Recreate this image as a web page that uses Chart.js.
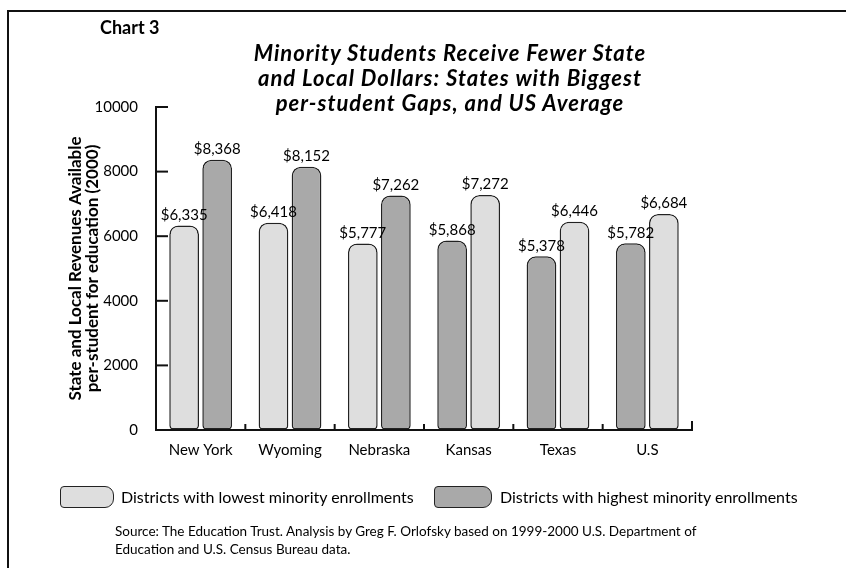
<!DOCTYPE html>
<html>
<head>
<meta charset="utf-8">
<script src="https://cdn.jsdelivr.net/npm/chart.js@4.4.1/dist/chart.umd.min.js"></script>
<style>
  html, body { margin: 0; padding: 0; background: #fff; }
  #wrap { position: relative; width: 846px; height: 568px; overflow: hidden; font-family: Lato, "Open Sans", sans-serif; color: #000; }
  #frame { position: absolute; left: 7px; top: 10px; width: 850px; height: 570px; border-left: 2px solid #111; border-top: 2px solid #111; }
  #cv { position: absolute; left: 0; top: 0; }
  .txt { position: absolute; white-space: nowrap; }
  #lbl { left: 100px; top: 16px; font-weight: bold; font-size: 18px; }
  #title { left: 190px; width: 520px; top: 40px; text-align: center; font-weight: bold; font-style: italic; font-size: 22px; line-height: 25px; letter-spacing: 1px; }
  .sw { position: absolute; height: 20px; border: 1.5px solid #222; border-radius: 4px 9px 9px 4px; }
  .lg { font-size: 16px; top: 487px; }
  #src { left: 115px; top: 522px; font-size: 13.5px; line-height: 18px; }
</style>
</head>
<body>
<div id="wrap">
  <div id="frame"></div>
  <canvas id="cv" width="846" height="568"></canvas>
  <div class="txt" id="lbl">Chart 3</div>
  <div class="txt" id="title">Minority Students Receive Fewer State<br>and Local Dollars: States with Biggest<br>per-student Gaps, and US Average</div>
  <div class="sw" style="left:60px; top:486px; width:52px; background:#dedede;"></div>
  <div class="txt lg" style="left:121px;">Districts with lowest minority enrollments</div>
  <div class="sw" style="left:434px; top:486px; width:56px; background:#a9a9a9;"></div>
  <div class="txt lg" style="left:500px;">Districts with highest minority enrollments</div>
  <div class="txt" id="src">Source: The Education Trust. Analysis by Greg F. Orlofsky based on 1999-2000 U.S. Department of<br>Education and U.S. Census Bureau data.</div>
</div>
<script>
// データ
const states = ['New York', 'Wyoming', 'Nebraska', 'Kansas', 'Texas', 'U.S'];
const lowestMinority = [6335, 6418, 5777, 5868, 5378, 5782];
const highestMinority = [8368, 8152, 7262, 7272, 6446, 6684];
const yTicks = [0, 2000, 4000, 6000, 8000, 10000];

const LIGHT = '#dedede';
const DARK = '#a9a9a9';
// スキャン画像では後半3州の濃淡が逆になっている
const lowShades = [LIGHT, LIGHT, LIGHT, DARK, DARK, DARK];
const highShades = [DARK, DARK, DARK, LIGHT, LIGHT, LIGHT];

// 棒の上に金額を表示
const valueLabels = {
  id: 'valueLabels',
  afterDatasetsDraw(chart) {
    const ctx = chart.ctx;
    ctx.save();
    ctx.font = '15px Lato, sans-serif';
    ctx.fillStyle = '#000';
    ctx.textAlign = 'center';
    ctx.textBaseline = 'bottom';
    chart.data.datasets.forEach(function(ds, di) {
      chart.getDatasetMeta(di).data.forEach(function(bar, i) {
        ctx.fillText('$' + ds.data[i].toLocaleString('en-US'), bar.x, bar.y - 3);
      });
    });
    ctx.restore();
  }
};

// 軸の内向き目盛り
const innerTicks = {
  id: 'innerTicks',
  afterDraw(chart) {
    const ctx = chart.ctx;
    const x = chart.scales.x, y = chart.scales.y;
    ctx.save();
    ctx.strokeStyle = '#111';
    ctx.lineWidth = 2;
    yTicks.forEach(function(v) {
      if (v === 0) return;
      const py = y.getPixelForValue(v);
      ctx.beginPath();
      ctx.moveTo(x.left, py);
      ctx.lineTo(x.left + 12, py);
      ctx.stroke();
    });
    const step = x.getPixelForValue(1) - x.getPixelForValue(0);
    for (let i = 0; i < states.length; i++) {
      const px = x.getPixelForValue(i) + step / 2;
      const h = (i === states.length - 1) ? 9 : 6;
      ctx.beginPath();
      ctx.moveTo(px, y.bottom);
      ctx.lineTo(px, y.bottom - h);
      ctx.stroke();
    }
    ctx.restore();
  }
};

new Chart(document.getElementById('cv'), {
  type: 'bar',
  data: {
    labels: states,
    datasets: [{
      label: 'Districts with lowest minority enrollments',
      data: lowestMinority,
      backgroundColor: lowShades,
    }, {
      label: 'Districts with highest minority enrollments',
      data: highestMinority,
      backgroundColor: highShades,
    }]
  },
  options: {
    responsive: false,
    animation: false,
    layout: { padding: { left: 58, right: 154, top: 107, bottom: 108 } },
    datasets: {
      bar: {
        borderColor: '#222',
        borderWidth: 1.5,
        borderSkipped: false,
        borderRadius: { topLeft: 9, topRight: 9, bottomLeft: 4, bottomRight: 4 },
        categoryPercentage: 0.74,
        barPercentage: 0.9,
      }
    },
    plugins: {
      legend: { display: false },
      tooltip: { enabled: false },
    },
    scales: {
      x: {
        grid: { display: false, drawTicks: false },
        border: { display: true, color: '#111', width: 2 },
        ticks: { color: '#000', font: { family: 'Lato', size: 15 }, padding: 11 },
        afterFit: function(scale) { scale.height = 30; }
      },
      y: {
        min: 0,
        max: 10000,
        afterBuildTicks: function(scale) { scale.ticks = yTicks.map(function(v) { return { value: v }; }); },
        grid: { drawOnChartArea: false, drawTicks: false },
        border: { display: true, color: '#111', width: 2 },
        ticks: {
          color: '#000',
          font: { family: 'Lato', size: 15 },
          padding: 18,
          callback: function(v) { return String(v); }
        },
        title: {
          display: true,
          text: ['State and Local Revenues Available', 'per-student for education (2000)'],
          color: '#000',
          font: { family: 'Lato', size: 17, weight: 'bold', lineHeight: 1.0 },
          padding: { top: 9, bottom: 0 }
        },
        afterFit: function(scale) { scale.width = 98; }
      }
    }
  },
  plugins: [valueLabels, innerTicks]
});
</script>
</body>
</html>
